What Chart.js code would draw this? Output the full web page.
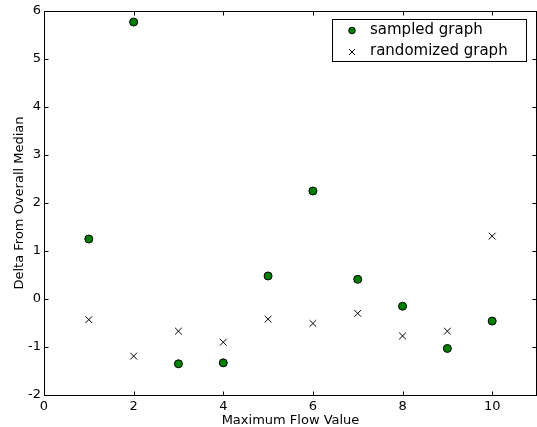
<!DOCTYPE html>
<html><head><meta charset="utf-8">
<script src="https://cdn.jsdelivr.net/npm/chart.js@4"></script>
<style>html,body{margin:0;padding:0;background:#fff}#wrap{width:537px;height:427px}</style>
</head><body><div id="wrap"><canvas id="c" width="537" height="427"></canvas></div>
<script>
const xValues = [1,2,3,4,5,6,7,8,9,10];
const sampledGraph = [1.25,5.77,-1.35,-1.33,0.48,2.25,0.41,-0.15,-1.03,-0.46];
const randomizedGraph = [-0.43,-1.19,-0.67,-0.90,-0.42,-0.51,-0.30,-0.77,-0.67,1.31];
const xTicks = [0,2,4,6,8,10];
const yTicks = [-2,-1,0,1,2,3,4,5,6];
const seriesNames = ['sampled graph','randomized graph'];
const FONT = 'DejaVu Sans';

const frame = {
  id:'frame',
  afterDatasetsDraw(chart){
    const {ctx, chartArea:a, scales:{x,y}} = chart;
    ctx.save();
    ctx.strokeStyle='#000'; ctx.lineWidth=1;
    const L=Math.round(a.left)+0.5, R=Math.round(a.right)-0.5, T=Math.round(a.top)+0.5, B=Math.round(a.bottom)+0.5;
    ctx.strokeRect(L, T, R-L, B-T);
    ctx.beginPath();
    xTicks.forEach(v=>{const p=Math.round(x.getPixelForValue(v))+0.5;
      ctx.moveTo(p,B); ctx.lineTo(p,B-4);
      ctx.moveTo(p,T); ctx.lineTo(p,T+4);});
    yTicks.forEach(v=>{const p=Math.round(y.getPixelForValue(v))+0.5;
      ctx.moveTo(L,p); ctx.lineTo(L+4,p);
      ctx.moveTo(R,p); ctx.lineTo(R-4,p);});
    ctx.stroke();
    // legend
    const bx=332.5, by=19.5, bw=194, bh=42;
    ctx.fillStyle='#fff'; ctx.fillRect(bx,by,bw,bh);
    ctx.strokeRect(bx,by,bw,bh);
    ctx.font='15px "'+FONT+'"'; ctx.textBaseline='middle'; ctx.textAlign='left';
    ctx.beginPath(); ctx.arc(352,30.5,3.3,0,Math.PI*2); ctx.fillStyle='#008000'; ctx.fill(); ctx.strokeStyle='#000'; ctx.stroke();
    ctx.fillStyle='#000'; ctx.fillText(seriesNames[0],370,30);
    ctx.beginPath(); ctx.moveTo(349,49); ctx.lineTo(355,55); ctx.moveTo(355,49); ctx.lineTo(349,55); ctx.stroke();
    ctx.fillText(seriesNames[1],370,51);
    ctx.restore();
  }
};

new Chart(document.getElementById('c'),{
  type:'scatter',
  data:{datasets:[
    {label:seriesNames[0], data:xValues.map((v,i)=>({x:v,y:sampledGraph[i]})),
     pointStyle:'circle', pointRadius:4, backgroundColor:'#008000', borderColor:'#000', borderWidth:1},
    {label:seriesNames[1], data:xValues.map((v,i)=>({x:v,y:randomizedGraph[i]})),
     pointStyle:'crossRot', pointRadius:4.8, backgroundColor:'#000', borderColor:'#000', borderWidth:1}
  ]},
  options:{
    responsive:false, animation:false, events:[],
    layout:{autoPadding:false, padding:{top:11,right:0,left:0,bottom:0}},
    plugins:{legend:{display:false},tooltip:{enabled:false}},
    scales:{
      x:{type:'linear',min:0,max:11,
        afterBuildTicks(s){s.ticks=xTicks.map(v=>({value:v}));},
        afterFit(s){s.height=32;s.paddingLeft=0;s.paddingRight=0;},
        grid:{display:false,drawTicks:false}, border:{display:false},
        ticks:{padding:4,color:'#000',font:{family:FONT,size:13},maxRotation:0},
        title:{display:true,text:'Maximum Flow Value',color:'#000',font:{family:FONT,size:13},padding:{top:0,bottom:-1}}},
      y:{type:'linear',min:-2,max:6,
        afterBuildTicks(s){s.ticks=yTicks.map(v=>({value:v}));},
        afterFit(s){s.width=44;s.paddingTop=0;s.paddingBottom=0;},
        grid:{display:false,drawTicks:false}, border:{display:false},
        ticks:{padding:3,color:'#000',font:{family:FONT,size:13}},
        title:{display:true,text:'Delta From Overall Median',color:'#000',font:{family:FONT,size:13},padding:{top:12,bottom:0}}}
    }
  },
  plugins:[frame]
});
</script></body></html>
